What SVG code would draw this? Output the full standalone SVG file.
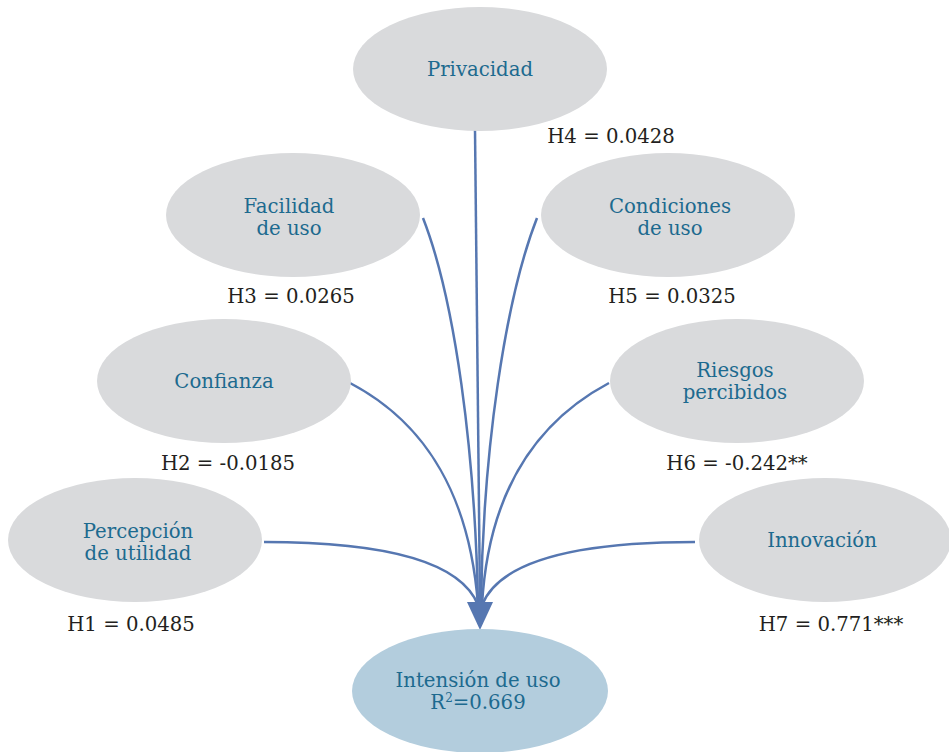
<svg xmlns="http://www.w3.org/2000/svg" width="949" height="752" viewBox="0 0 949 752">
<style>
.n{fill:#d9dadc}
.t{font-family:"DejaVu Serif","Liberation Serif",serif;font-size:19.7px;fill:#1d6a8f;text-anchor:middle}
.h{font-family:"DejaVu Serif","Liberation Serif",serif;font-size:19.7px;fill:#231f20;text-anchor:middle}
.c{fill:none;stroke:#5677b1;stroke-width:2.5}
</style>
<defs>
<marker id="ah" markerUnits="userSpaceOnUse" markerWidth="28" markerHeight="30" refX="14" refY="2" orient="0">
<polygon points="1,0 27,0 14,28" fill="#5677b1"/>
</marker>
</defs>
<rect width="949" height="752" fill="#fff"/>
<g id="connectors">
<path class="c" d="M423,218 C455,300 475,450 478,605"/>
<path class="c" d="M537,218 C505,300 483,450 481,605"/>
<path class="c" d="M350,383 C430,425 470,500 478,605"/>
<path class="c" d="M609,383 C530,425 488,500 482,605"/>
<path class="c" d="M264,542 C380,542 460,560 478,605"/>
<path class="c" d="M695,542 C580,542 500,560 482,605"/>
<path class="c" d="M475,130 L480,604" marker-end="url(#ah)"/>
</g>
<g id="privacidad"><ellipse class="n" cx="480" cy="69" rx="127" ry="62"/><text class="t" x="480" y="76">Privacidad</text></g>
<g id="facilidad"><ellipse class="n" cx="293" cy="215" rx="127" ry="62"/><text class="t" x="289" y="213">Facilidad</text><text class="t" x="289" y="235">de uso</text></g>
<g id="condiciones"><ellipse class="n" cx="668" cy="215" rx="127" ry="62"/><text class="t" x="670" y="213">Condiciones</text><text class="t" x="670" y="235">de uso</text></g>
<g id="confianza"><ellipse class="n" cx="224" cy="381" rx="127" ry="62"/><text class="t" x="224" y="388">Confianza</text></g>
<g id="riesgos"><ellipse class="n" cx="737" cy="381" rx="127" ry="62"/><text class="t" x="735" y="377">Riesgos</text><text class="t" x="735" y="399">percibidos</text></g>
<g id="percepcion"><ellipse class="n" cx="135" cy="540" rx="127" ry="62"/><text class="t" x="138" y="538">Percepción</text><text class="t" x="138" y="560">de utilidad</text></g>
<g id="innovacion"><ellipse class="n" cx="825" cy="540" rx="126" ry="62"/><text class="t" x="822" y="547">Innovación</text></g>
<g id="intension"><ellipse cx="480" cy="691" rx="128" ry="62" fill="#b3cddd"/><text class="t" x="478" y="687">Intensión de uso</text><text class="t" x="478" y="709">R<tspan font-size="12" dy="-7">2</tspan><tspan dy="7">=0.669</tspan></text></g>
<g id="labels">
<text class="h" x="611" y="143">H4 = 0.0428</text>
<text class="h" x="291" y="303">H3 = 0.0265</text>
<text class="h" x="672" y="303">H5 = 0.0325</text>
<text class="h" x="228" y="470">H2 = -0.0185</text>
<text class="h" x="737" y="470">H6 = -0.242**</text>
<text class="h" x="131" y="631">H1 = 0.0485</text>
<text class="h" x="831" y="631">H7 = 0.771***</text>
</g>
</svg>
